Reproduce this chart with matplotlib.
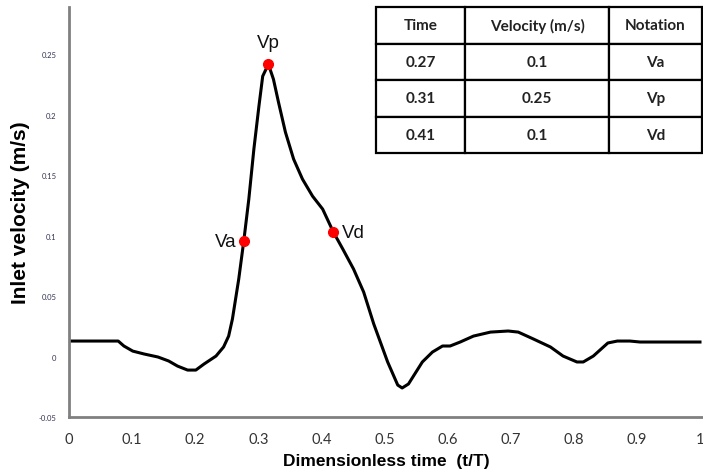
import numpy as np
import matplotlib.pyplot as plt

# inlet velocity waveform
t_data = [0.0, 0.051, 0.078, 0.087, 0.101, 0.119, 0.141, 0.158, 0.172, 0.188,
          0.201, 0.214, 0.233, 0.245, 0.253, 0.259, 0.264, 0.269, 0.277, 0.285,
          0.293, 0.301, 0.307, 0.316, 0.324, 0.332, 0.343, 0.356, 0.370, 0.386,
          0.402, 0.419, 0.434, 0.451, 0.467, 0.483, 0.505, 0.521, 0.528, 0.538,
          0.560, 0.576, 0.592, 0.604, 0.620, 0.641, 0.668, 0.696, 0.712, 0.736,
          0.763, 0.783, 0.805, 0.815, 0.831, 0.854, 0.869, 0.889, 0.905, 1.0]
v_data = [0.0128, 0.0128, 0.0128, 0.0087, 0.0045, 0.0021, -0.0004, -0.0037, -0.0079, -0.0112,
          -0.0112, -0.0062, 0.0004, 0.0079, 0.0169, 0.0310, 0.0475, 0.0640, 0.0955, 0.1302,
          0.1715, 0.2070, 0.2318, 0.2417, 0.2293, 0.2103, 0.1855, 0.1632, 0.1467, 0.1326,
          0.1219, 0.1029, 0.0888, 0.0723, 0.0533, 0.0269, -0.0045, -0.0236, -0.0260, -0.0227,
          -0.0045, 0.0037, 0.0087, 0.0087, 0.0120, 0.0169, 0.0202, 0.0211, 0.0202, 0.0145,
          0.0079, 0.0004, -0.0045, -0.0045, 0.0004, 0.0112, 0.0128, 0.0128, 0.0120, 0.0120]

# marked points
pt_t = [0.277, 0.316, 0.419]
pt_v = [0.0955, 0.2417, 0.1029]
pt_names = ['Va', 'Vp', 'Vd']

# table contents
col_labels = ['Time', 'Velocity (m/s)', 'Notation']
tab_time = ['0.27', '0.31', '0.41']
tab_vel = ['0.1', '0.25', '0.1']
tab_note = ['Va', 'Vp', 'Vd']

x_ticks = [0, 0.1, 0.2, 0.3, 0.4, 0.5, 0.6, 0.7, 0.8, 0.9, 1]
x_labels = ['0', '0.1', '0.2', '0.3', '0.4', '0.5', '0.6', '0.7', '0.8', '0.9', '1']
y_ticks = [-0.05, 0, 0.05, 0.1, 0.15, 0.2, 0.25]
y_labels = ['-0.05', '0', '0.05', '0.1', '0.15', '0.2', '0.25']

fig = plt.figure(figsize=(7.03, 4.77), dpi=100)
ax = fig.add_axes([69/703, 1-418/477, 634/703, 410/477])

ax.plot(t_data, v_data, color='black', lw=2.2, solid_joinstyle='round')
ax.plot(pt_t, pt_v, 'o', color='red', ms=7, zorder=3)

lab_font = dict(fontsize=13.5, family='Liberation Sans', color='#111111')
ax.text(pt_t[0] - 0.012, pt_v[0], pt_names[0], ha='right', va='center', **lab_font)
ax.text(pt_t[1], pt_v[1] + 0.011, pt_names[1], ha='center', va='bottom', **lab_font)
ax.text(pt_t[2] + 0.014, pt_v[2], pt_names[2], ha='left', va='center', **lab_font)

ax.set_xlim(0, 1.0048)
ax.set_ylim(-0.05, 0.289)
ax.set_xticks(x_ticks)
ax.set_xticklabels(x_labels, fontsize=10.5, family='Lato', color='#333333')
ax.set_yticks(y_ticks)
ax.set_yticklabels(y_labels, fontsize=5.5, family='Lato', color='#333355')
ax.tick_params(axis='both', length=0)
ax.tick_params(axis='x', pad=11)
ax.tick_params(axis='y', pad=9)

for s in ['top', 'right']:
    ax.spines[s].set_visible(False)
for s in ['left', 'bottom']:
    ax.spines[s].set_color('#808080')
    ax.spines[s].set_linewidth(2)

ax.set_xlabel('Dimensionless time  (t/T)', fontsize=12.5, fontweight='bold',
              family='Liberation Sans', labelpad=5)
ax.set_ylabel('Inlet velocity (m/s)', fontsize=15, fontweight='bold',
              family='Liberation Sans', labelpad=6)

# table in its own axes
tax = fig.add_axes([376/703, 1-154/477, 326/703, 146/477])
tax.axis('off')
cells = [[tab_time[i], tab_vel[i], tab_note[i]] for i in range(3)]
tbl = tax.table(cellText=cells, colLabels=col_labels, bbox=[0, 0, 1, 1],
                colWidths=[0.273, 0.442, 0.285], cellLoc='center')
tbl.auto_set_font_size(False)
for (r, c), cell in tbl.get_celld().items():
    cell.set_linewidth(1.6)
    cell.set_edgecolor('black')
    cell.get_text().set_fontsize(11)
    cell.get_text().set_family('Lato')
    cell.get_text().set_fontweight('bold')
    cell.get_text().set_color('#222222')

fig.savefig('out.png', dpi=100)
